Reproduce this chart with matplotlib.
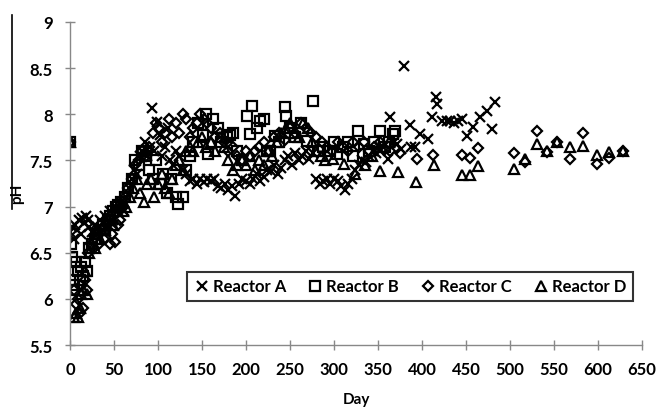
import matplotlib
matplotlib.use("Agg")
import matplotlib.pyplot as plt
from matplotlib.lines import Line2D

plt.rcParams["font.family"] = ["Lato", "DejaVu Sans"]
plt.rcParams["font.weight"] = "bold"

# Reactor A
days_a = [0, 2, 4, 6, 8, 10, 12, 14, 16, 18, 20, 22, 25, 28, 31, 34, 37, 40, 43, 46, 49,
          52, 55, 58, 61, 64, 67, 70, 73, 76, 79, 82, 85, 88, 91, 93, 96, 99, 102, 105, 108,
          111, 114, 117, 120, 124, 128, 132, 136, 140, 144, 148, 152, 156, 160, 164, 168,
          172, 176, 180, 184, 188, 192, 196, 200, 204, 208, 212, 216, 220, 224, 228, 232,
          236, 240, 244, 248, 252, 256, 260, 264, 268, 272, 276, 280, 284, 288, 292, 296,
          300, 304, 308, 312, 316, 320, 324, 328, 332, 336, 340, 344, 348, 352, 356, 361,
          364, 368, 372, 376, 380, 386, 388, 392, 398, 407, 411, 416, 417, 423, 428, 432,
          436, 441, 445, 451, 458, 466, 474, 480, 483]
ph_a = [6.72, 6.78, 6.65, 6.8, 6.75, 6.85, 6.7, 6.88, 6.82, 6.9, 6.85, 6.78, 6.72, 6.8, 6.7,
        6.85, 6.75, 6.9, 6.8, 6.95, 6.85, 7.0, 6.95, 7.05, 6.95, 7.1, 7.2, 7.3, 7.4, 7.35,
        7.55, 7.6, 7.7, 7.55, 7.65, 8.07, 7.6, 7.92, 7.77, 7.55, 7.65, 7.85, 7.5, 7.45, 7.6,
        7.55, 7.4, 7.35, 7.28, 7.3, 7.25, 7.3, 7.27, 7.3, 7.28, 7.3, 7.22, 7.2, 7.25, 7.18,
        7.22, 7.12, 7.25, 7.3, 7.28, 7.25, 7.3, 7.35, 7.28, 7.32, 7.4, 7.38, 7.45, 7.35, 7.42,
        7.5, 7.55, 7.45, 7.58, 7.5, 7.55, 7.6, 7.52, 7.58, 7.3, 7.25, 7.28, 7.3, 7.25, 7.3,
        7.28, 7.22, 7.18, 7.25, 7.3, 7.4, 7.45, 7.5, 7.48, 7.55, 7.6, 7.58, 7.6, 7.65, 7.52,
        7.97, 7.7, 7.68, 7.62, 8.52, 7.88, 7.65, 7.65, 7.79, 7.73, 7.97, 8.19, 8.11, 7.93,
        7.93, 7.93, 7.9, 7.93, 7.95, 7.76, 7.86, 7.97, 8.04, 7.84, 8.13]

# Reactor B
days_b = [0, 1, 2, 3, 4, 5, 7, 9, 11, 13, 15, 17, 19, 22, 25, 28, 31, 34, 37, 40, 43, 46, 49,
          52, 55, 58, 62, 66, 70, 74, 78, 82, 86, 90, 94, 98, 102, 106, 110, 115, 120, 123,
          128, 132, 136, 140, 145, 151, 155, 157, 162, 168, 172, 178, 182, 185, 190, 195,
          201, 205, 207, 212, 216, 220, 224, 227, 233, 238, 244, 246, 250, 256, 262, 269,
          276, 282, 288, 295, 300, 303, 310, 316, 322, 327, 334, 340, 346, 352, 358, 362,
          367, 369]
ph_b = [7.7, 6.6, 6.45, 6.2, 6.15, 6.1, 6.4, 6.3, 6.2, 6.35, 6.25, 6.4, 6.3, 6.55, 6.6, 6.65,
        6.7, 6.75, 6.8, 6.75, 6.85, 6.9, 6.95, 7.0, 7.02, 7.05, 7.1, 7.2, 7.3, 7.5, 7.45, 7.6,
        7.55, 7.4, 7.3, 7.5, 7.25, 7.35, 7.15, 7.3, 7.1, 7.03, 7.1, 7.4, 7.55, 7.7, 7.9, 7.77,
        8.0, 7.57, 7.95, 7.85, 7.7, 7.75, 7.77, 7.8, 7.6, 7.5, 7.98, 7.79, 8.09, 7.85, 7.93,
        7.95, 7.6, 7.6, 7.76, 7.7, 8.08, 7.98, 7.85, 7.75, 7.9, 7.71, 8.14, 7.6, 7.65, 7.6,
        7.7, 7.57, 7.65, 7.7, 7.55, 7.82, 7.68, 7.6, 7.7, 7.82, 7.65, 7.7, 7.79, 7.82]

# Reactor C
days_c = [0, 5, 7, 9, 11, 13, 15, 17, 19, 21, 24, 27, 30, 33, 36, 39, 42, 45, 48, 51, 54, 57,
          60, 63, 66, 70, 74, 78, 82, 86, 90, 94, 98, 101, 104, 108, 112, 116, 120, 124, 128,
          132, 136, 140, 144, 148, 152, 156, 160, 165, 170, 175, 180, 185, 190, 195, 200, 205,
          210, 215, 220, 226, 232, 238, 244, 250, 256, 262, 268, 274, 280, 286, 292, 298, 304,
          310, 316, 322, 328, 334, 340, 346, 352, 358, 364, 375, 394, 413, 446, 455, 464, 505,
          517, 531, 542, 553, 568, 583, 599, 613, 628]
ph_c = [7.7, 6.1, 5.95, 6.0, 5.85, 6.15, 5.9, 6.2, 6.1, 6.5, 6.6, 6.55, 6.7, 6.6, 6.75, 6.65,
        6.8, 6.6, 6.7, 6.62, 6.8, 6.85, 7.0, 7.1, 7.2, 7.3, 7.45, 7.5, 7.6, 7.55, 7.65, 7.8,
        7.9, 7.85, 7.7, 7.8, 7.95, 7.75, 7.9, 7.8, 8.0, 7.95, 7.75, 7.85, 7.9, 8.0, 7.95, 7.9,
        7.85, 7.75, 7.8, 7.7, 7.6, 7.65, 7.55, 7.5, 7.6, 7.55, 7.6, 7.65, 7.7, 7.6, 7.75, 7.8,
        7.72, 7.85, 7.8, 7.9, 7.85, 7.8, 7.75, 7.7, 7.65, 7.6, 7.7, 7.65, 7.6, 7.7, 7.65, 7.7,
        7.6, 7.65, 7.7, 7.62, 7.6, 7.58, 7.52, 7.56, 7.56, 7.53, 7.63, 7.58, 7.48, 7.82, 7.59,
        7.7, 7.52, 7.8, 7.46, 7.53, 7.6]

# Reactor D
days_d = [0, 5, 7, 9, 11, 13, 15, 17, 19, 22, 25, 28, 31, 34, 37, 40, 43, 46, 49, 52, 56, 60,
          64, 68, 72, 76, 80, 84, 88, 92, 96, 100, 104, 108, 112, 116, 120, 124, 128, 132, 136,
          140, 145, 150, 155, 160, 165, 170, 175, 180, 185, 190, 195, 200, 205, 210, 215, 220,
          225, 230, 235, 240, 245, 250, 255, 260, 265, 270, 275, 280, 285, 290, 299, 311, 324,
          335, 343, 352, 362, 373, 393, 414, 445, 455, 464, 505, 517, 531, 542, 553, 568, 583,
          599, 613, 628]
ph_d = [7.7, 5.8, 5.85, 5.8, 5.9, 6.05, 6.1, 6.3, 6.05, 6.5, 6.6, 6.55, 6.7, 6.65, 6.8, 6.75,
        6.85, 6.9, 6.8, 6.95, 7.0, 6.95, 7.0, 7.1, 7.2, 7.3, 7.15, 7.05, 7.25, 7.3, 7.1, 7.25,
        7.35, 7.2, 7.15, 7.3, 7.45, 7.5, 7.4, 7.6, 7.65, 7.6, 7.7, 7.75, 7.65, 7.7, 7.6, 7.75,
        7.65, 7.5, 7.4, 7.45, 7.5, 7.45, 7.55, 7.4, 7.5, 7.45, 7.6, 7.55, 7.7, 7.8, 7.85, 7.9,
        7.8, 7.75, 7.9, 7.85, 7.7, 7.6, 7.55, 7.5, 7.52, 7.46, 7.35, 7.45, 7.55, 7.39, 7.7,
        7.37, 7.27, 7.45, 7.34, 7.34, 7.44, 7.41, 7.52, 7.68, 7.6, 7.7, 7.65, 7.66, 7.56, 7.59,
        7.6]

series = [
    ("Reactor A", days_a, ph_a, "x"),
    ("Reactor B", days_b, ph_b, "s"),
    ("Reactor C", days_c, ph_c, "D"),
    ("Reactor D", days_d, ph_d, "^"),
]

fig = plt.figure(figsize=(6.58, 4.10), dpi=100)
ax = fig.add_axes([0.1064, 0.156, 0.8693, 0.788])

for name, d, p, m in series:
    size = {"x": 6.5, "s": 6.5, "D": 5.5, "^": 6.5}[m]
    ax.plot(d, p, linestyle="none", marker=m, markersize=size,
            markerfacecolor="none", markeredgecolor="black",
            markeredgewidth=1.6, label=name)

ax.set_xlim(0, 650)
ax.set_ylim(5.5, 9)
ax.set_xticks(range(0, 651, 50))
ax.set_yticks([5.5, 6, 6.5, 7, 7.5, 8, 8.5, 9])
ax.set_yticklabels(["5.5", "6", "6.5", "7", "7.5", "8", "8.5", "9"])

for s in ["top", "right"]:
    ax.spines[s].set_visible(False)
for s in ["left", "bottom"]:
    ax.spines[s].set_color("#888888")
    ax.spines[s].set_linewidth(1.0)
ax.tick_params(direction="inout", length=7, color="#888888", labelsize=12,
               width=1.0)
ax.tick_params(axis="x", pad=8)
ax.tick_params(axis="y", pad=9)

ax.set_xlabel("Day", fontsize=11, fontweight="bold", labelpad=11)
ax.set_ylabel("pH", fontsize=11, fontweight="bold")
ax.yaxis.set_label_coords(-0.08, 0.47)

leg = ax.legend(loc="lower right", bbox_to_anchor=(0.984, 0.136), ncol=4,
                frameon=True, fancybox=False, handletextpad=0.15,
                columnspacing=1.25, handlelength=1.0, borderpad=0.4,
                borderaxespad=0.0, prop={"weight": "bold", "size": 12})
leg.get_frame().set_edgecolor("black")
leg.get_frame().set_linewidth(1.5)

# stray vertical rule at the left edge
fig.add_artist(Line2D([12 / 658, 12 / 658], [1 - 16 / 410, 1 - 210 / 410],
                      color="black", linewidth=1.2))

fig.savefig("out.png", dpi=100)
